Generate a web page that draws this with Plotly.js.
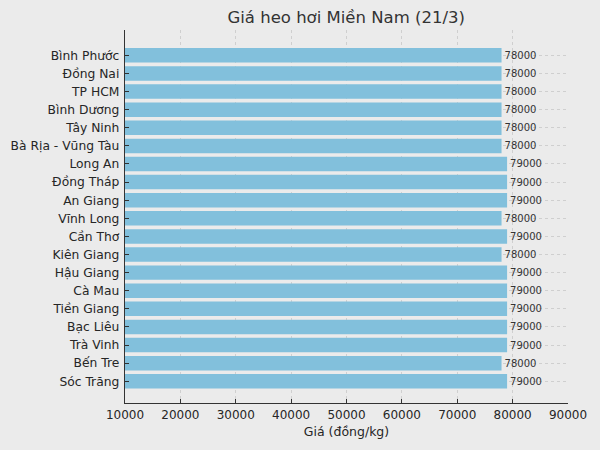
<!DOCTYPE html>
<html>
<head>
<meta charset="utf-8">
<script src="https://cdn.plot.ly/plotly-3.0.1.min.js"></script>
<style>body{margin:0;background:#ebebeb}</style>
</head>
<body>
<div id="graph" style="width:600px;height:450px"></div>
<script>
var provinces = ["Bình Phước", "Đồng Nai", "TP HCM", "Bình Dương", "Tây Ninh", "Bà Rịa - Vũng Tàu",
  "Long An", "Đồng Tháp", "An Giang", "Vĩnh Long", "Cần Thơ", "Kiên Giang", "Hậu Giang",
  "Cà Mau", "Tiền Giang", "Bạc Liêu", "Trà Vinh", "Bến Tre", "Sóc Trăng"]
var prices = [78000, 78000, 78000, 78000, 78000, 78000,
  79000, 79000, 79000, 78000, 79000, 78000, 79000,
  79000, 79000, 79000, 79000, 78000, 79000]
var xTicks = [10000, 20000, 30000, 40000, 50000, 60000, 70000, 80000, 90000]

var base = 10000
var trace = {
  type: "bar",
  orientation: "h",
  y: provinces,
  x: prices.map(function(p){ return p - base }),
  base: base,
  width: 0.8,
  marker: {color: "#82c0dc", line: {width: 0}},
  text: prices.map(String),
  textposition: "outside",
  cliponaxis: false,
  textfont: {family: "DejaVu Sans", size: 10, color: "#333"},
  hoverinfo: "none"
}

var layout = {
  width: 600, height: 450,
  paper_bgcolor: "#ebebeb",
  plot_bgcolor: "#ebebeb",
  font: {family: "DejaVu Sans", color: "#262626"},
  margin: {l: 125, r: 32, t: 30, b: 47},
  showlegend: false,
  title: {text: "Giá heo hơi Miền Nam (21/3)", font: {size: 16.5, color: "#333"}, x: 0.577, xanchor: "center", y: 0.962, yanchor: "middle"},
  xaxis: {
    range: [10000, 90000],
    tickvals: xTicks,
    ticktext: xTicks.map(String),
    tickfont: {size: 12},
    ticks: "inside", ticklen: 4, tickcolor: "#333",
    showline: true, linecolor: "#333", linewidth: 1.2,
    showgrid: true, gridcolor: "#cfcfcf", griddash: "dot", gridwidth: 1,
    zeroline: false,
    title: {text: "Giá (đồng/kg)", font: {size: 12.5}, standoff: 6}
  },
  yaxis: {
    range: [19.2, -1.4],
    tickfont: {size: 12.3},
    ticks: "inside", ticklen: 4, tickcolor: "#333",
    showline: true, linecolor: "#333", linewidth: 1.2,
    showgrid: true, gridcolor: "#cfcfcf", griddash: "dot", gridwidth: 1,
    zeroline: false,
    ticklabelstandoff: 2
  }
}

Plotly.newPlot("graph", [trace], layout, {displayModeBar: false, staticPlot: true})
</script>
</body>
</html>
